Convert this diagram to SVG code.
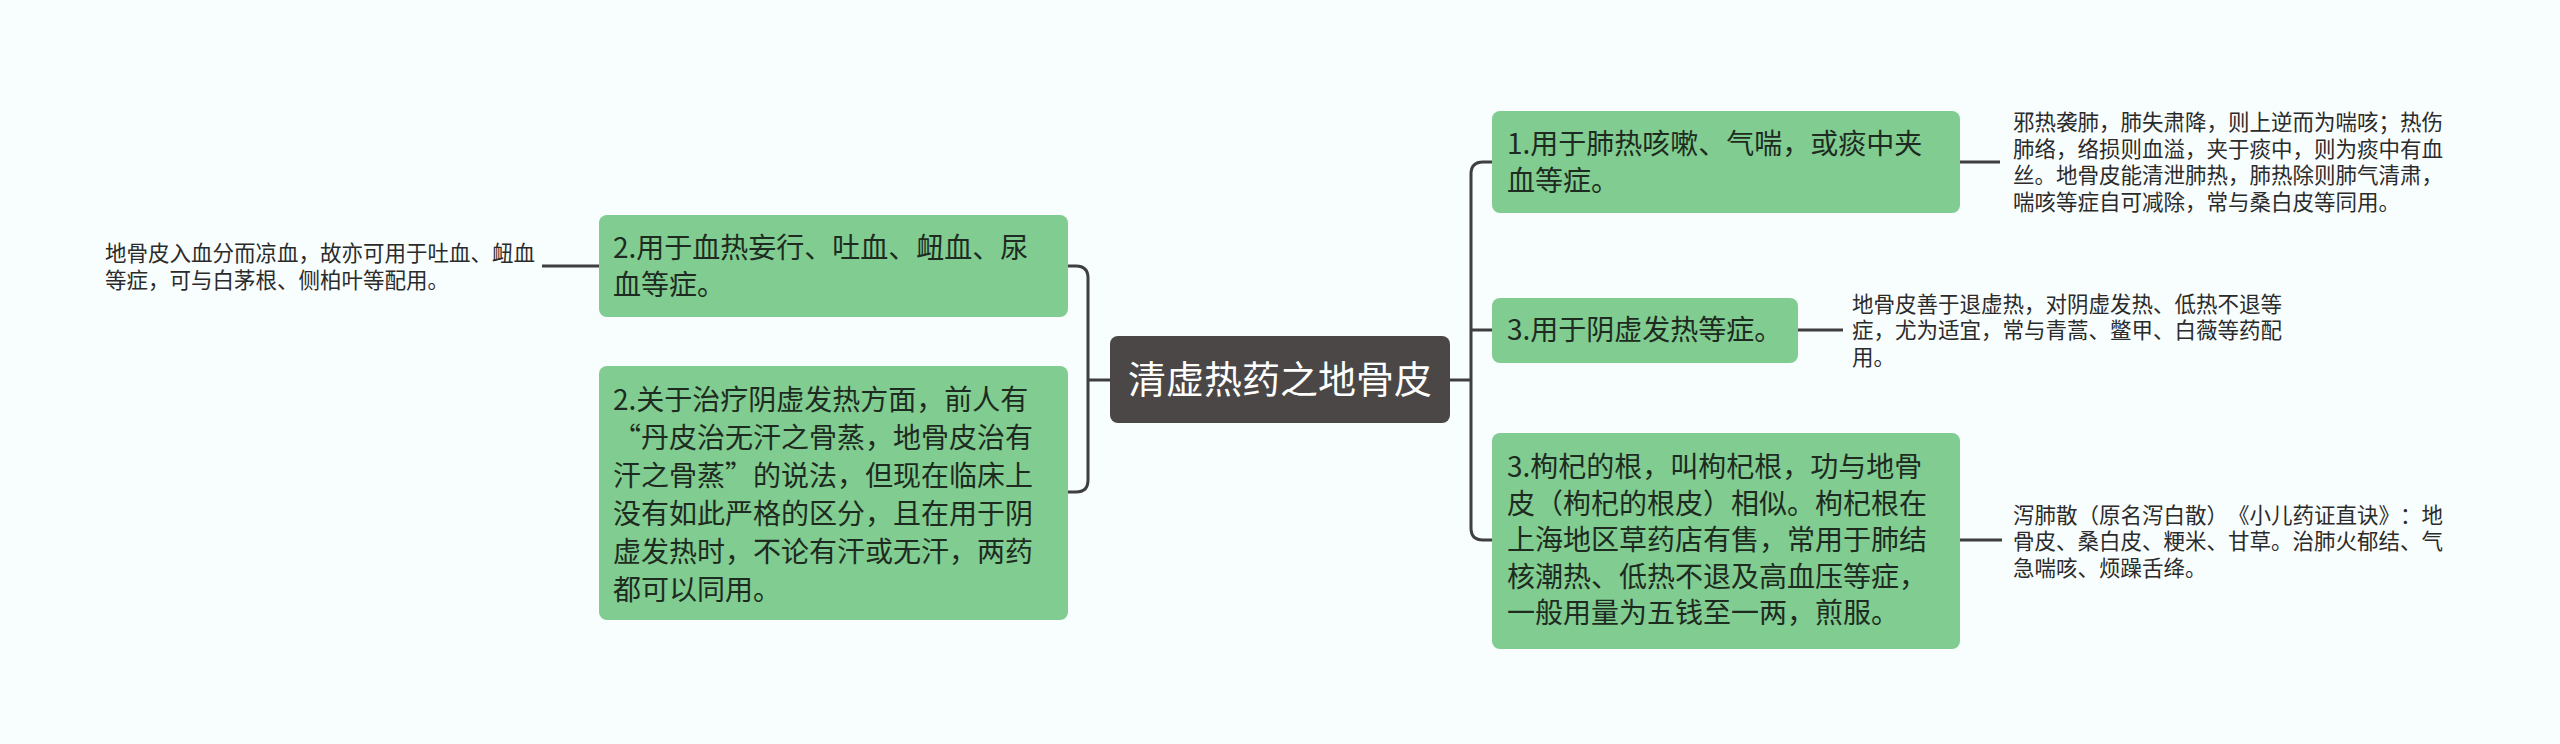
<svg xmlns="http://www.w3.org/2000/svg" width="2560" height="744" viewBox="0 0 2560 744">
<style>
.bg{fill:#f8fdfd}
.node{fill:#80cc91}
.root{fill:#4b4747}
text{text-spacing-trim:space-all}
.t{font-family:"Noto Sans CJK SC","Noto Sans",sans-serif;font-size:28px;fill:#1e2b20}
.rt{font-family:"Noto Sans CJK SC","Noto Sans",sans-serif;font-size:38px;fill:#ffffff}
.lf{font-family:"Noto Sans CJK SC","Noto Sans",sans-serif;font-size:21.5px;fill:#2b2b2b}
.c{fill:none;stroke:#3f3f3f;stroke-width:3}
</style>
<rect class="bg" x="0" y="0" width="2560" height="744"/>
<g id="connectors">
<path class="c" d="M1110,380 H1088"/>
<path class="c" d="M1068,266 H1076 Q1088,266 1088,278 V480 Q1088,492 1076,492 H1068"/>
<path class="c" d="M1450,380 H1471"/>
<path class="c" d="M1492,162 H1483 Q1471,162 1471,174 V528 Q1471,540 1483,540 H1492"/>
<path class="c" d="M1471,330 H1492"/>
<path class="c" d="M599,266 H542"/>
<path class="c" d="M1960,162 H2000"/>
<path class="c" d="M1798,330 H1843"/>
<path class="c" d="M1960,540 H2002"/>
</g>
<g id="root">
<rect class="root" x="1110" y="336" width="340" height="87" rx="8"/>
<text class="rt" x="1280" y="393" text-anchor="middle">清虚热药之地骨皮</text>
</g>
<g id="L1">
<rect class="node" x="599" y="215" width="469" height="102" rx="8"/>
<text class="t"><tspan x="613" y="258">2.用于血热妄行、吐血、衄血、尿</tspan><tspan x="613" y="295">血等症。</tspan></text>
</g>
<g id="L2">
<rect class="node" x="599" y="366" width="469" height="254" rx="8"/>
<text class="t"><tspan x="613" y="410">2.关于治疗阴虚发热方面，前人有</tspan><tspan x="613" y="448">“丹皮治无汗之骨蒸，地骨皮治有</tspan><tspan x="613" y="486">汗之骨蒸”的说法，但现在临床上</tspan><tspan x="613" y="524">没有如此严格的区分，且在用于阴</tspan><tspan x="613" y="562">虚发热时，不论有汗或无汗，两药</tspan><tspan x="613" y="600">都可以同用。</tspan></text>
</g>
<g id="LL1">
<text class="lf"><tspan x="105" y="261">地骨皮入血分而凉血，故亦可用于吐血、衄血</tspan><tspan x="105" y="288">等症，可与白茅根、侧柏叶等配用。</tspan></text>
</g>
<g id="R1">
<rect class="node" x="1492" y="111" width="468" height="102" rx="8"/>
<text class="t"><tspan x="1507" y="154">1.用于肺热咳嗽、气喘，或痰中夹</tspan><tspan x="1507" y="191">血等症。</tspan></text>
</g>
<g id="R2">
<rect class="node" x="1492" y="298" width="306" height="65" rx="8"/>
<text class="t" x="1507" y="340">3.用于阴虚发热等症。</text>
</g>
<g id="R3">
<rect class="node" x="1492" y="433" width="468" height="216" rx="8"/>
<text class="t"><tspan x="1507" y="477">3.枸杞的根，叫枸杞根，功与地骨</tspan><tspan x="1507" y="513.5">皮（枸杞的根皮）相似。枸杞根在</tspan><tspan x="1507" y="550">上海地区草药店有售，常用于肺结</tspan><tspan x="1507" y="586.5">核潮热、低热不退及高血压等症，</tspan><tspan x="1507" y="623">一般用量为五钱至一两，煎服。</tspan></text>
</g>
<g id="RL1">
<text class="lf"><tspan x="2013" y="130">邪热袭肺，肺失肃降，则上逆而为喘咳；热伤</tspan><tspan x="2013" y="156.5">肺络，络损则血溢，夹于痰中，则为痰中有血</tspan><tspan x="2013" y="183">丝。地骨皮能清泄肺热，肺热除则肺气清肃，</tspan><tspan x="2013" y="209.5">喘咳等症自可减除，常与桑白皮等同用。</tspan></text>
</g>
<g id="RL2">
<text class="lf"><tspan x="1852" y="311.5">地骨皮善于退虚热，对阴虚发热、低热不退等</tspan><tspan x="1852" y="338">症，尤为适宜，常与青蒿、鳖甲、白薇等药配</tspan><tspan x="1852" y="364.5">用。</tspan></text>
</g>
<g id="RL3">
<text class="lf"><tspan x="2013" y="522.5">泻肺散（原名泻白散）《小儿药证直诀》：地</tspan><tspan x="2013" y="549">骨皮、桑白皮、粳米、甘草。治肺火郁结、气</tspan><tspan x="2013" y="575.5">急喘咳、烦躁舌绛。</tspan></text>
</g>
</svg>
